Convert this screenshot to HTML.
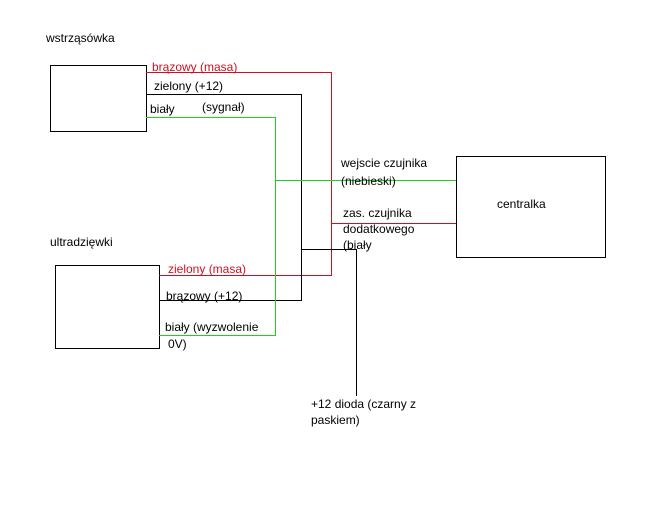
<!DOCTYPE html>
<html><head><style>
body{margin:0;background:#fff;}
svg text{font-family:"Liberation Sans",sans-serif;font-size:12px;}
</style></head><body>
<svg width="650" height="500" xmlns="http://www.w3.org/2000/svg" shape-rendering="crispEdges">
<rect width="650" height="500" fill="#fff"/>
<rect x="50.5" y="65.5" width="96" height="66" fill="none" stroke="#000"/>
<rect x="55.5" y="265.5" width="104" height="83" fill="none" stroke="#000"/>
<rect x="456.5" y="156.5" width="149" height="101" fill="none" stroke="#000"/>
<g fill="none" stroke-width="1">
<polyline points="146,72.5 331.5,72.5 331.5,275.5 159,275.5" stroke="#d01020"/>
<line x1="331" y1="223.5" x2="456" y2="223.5" stroke="#d01020"/>
<polyline points="146,94.5 301.5,94.5 301.5,300.5 159,300.5" stroke="#000"/>
<polyline points="301,249.5 356.5,249.5 356.5,396" stroke="#000"/>
<polyline points="146,117.5 275.5,117.5 275.5,335.5 159,335.5" stroke="#20d020"/>
<line x1="275" y1="180.5" x2="456" y2="180.5" stroke="#20d020"/>
</g>
<text x="46" y="42">wstrząsówka</text>
<text x="50" y="246">ultradzięwki</text>
<text x="152" y="71" fill="#d01020">brązowy (masa)</text>
<text x="154" y="90">zielony (+12)</text>
<text x="150" y="113">biały</text>
<text x="202" y="111">(sygnał)</text>
<text x="341" y="167">wejscie czujnika</text>
<text x="341" y="185">(niebieski)</text>
<text x="497" y="208">centralka</text>
<text x="343" y="217">zas. czujnika</text>
<text x="343" y="233">dodatkowego</text>
<text x="343" y="249">(biały</text>
<text x="168" y="273" fill="#d01020">zielony (masa)</text>
<text x="166" y="300">brązowy (+12)</text>
<text x="165" y="331">biały (wyzwolenie</text>
<text x="168" y="348">0V)</text>
<text x="311" y="408">+12 dioda (czarny z</text>
<text x="311" y="424">paskiem)</text>
</svg>
</body></html>
